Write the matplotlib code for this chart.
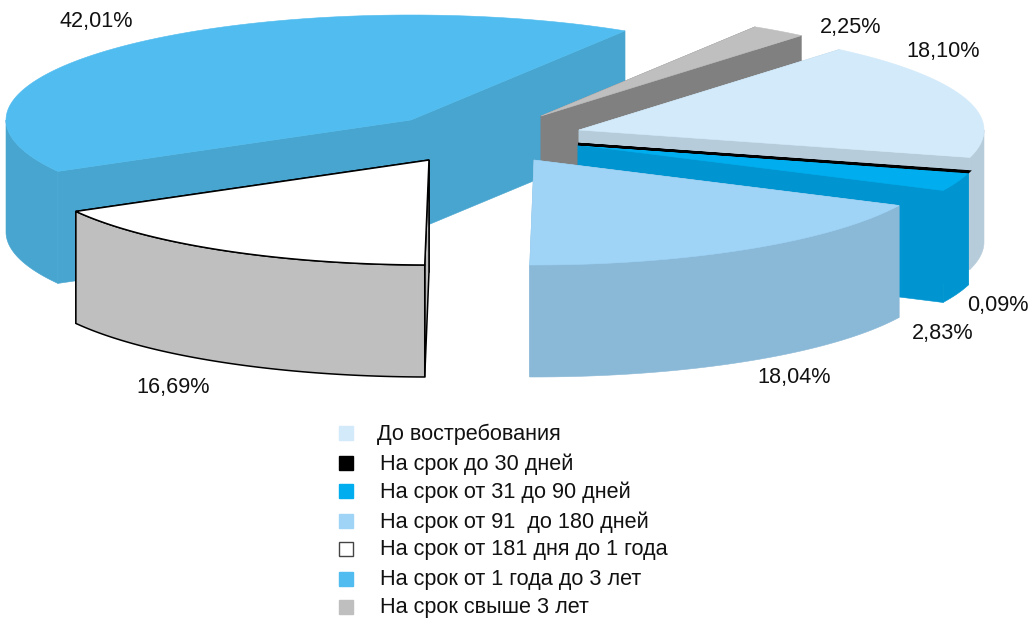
import numpy as np
import matplotlib
matplotlib.use("Agg")
import matplotlib.pyplot as plt
from matplotlib.patches import Polygon, Rectangle

plt.rcParams['font.family'] = ['Liberation Sans', 'DejaVu Sans']

categories = ["До востребования", "На срок до 30 дней", "На срок от 31 до 90 дней",
              "На срок от 91  до 180 дней", "На срок от 181 дня до 1 года",
              "На срок от 1 года до 3 лет", "На срок свыше 3 лет"]
shares = [18.10, 0.09, 2.83, 18.04, 16.69, 42.01, 2.25]

top_colors = ["#D2EAFA", "#000000", "#00AEEF", "#9FD4F7", "#FFFFFF", "#50BCEF", "#BFBFBF"]
wall_colors = ["#B7CCDB", "#000000", "#0095D0", "#8AB8D7", "#BFBFBF", "#47A5D0", "#808080"]

# pixel position of each exploded slice's tip, and of its percent label
apex = [(579, 130), (578, 144), (578, 145), (534, 160), (429, 160), (411, 120), (541, 116)]
label_pos = [(943, 51), (998, 305), (943, 333), (794, 376), (173, 387), (96, 21), (851, 27)]
legend_y = [433, 463, 491, 521, 549, 579, 607]
legend_x = [377, 380, 380, 380, 380, 380, 380]

start_angle = 40.0   # clockwise from the top
rx, ry = 405, 105
depth = 112
font_size = 15.6


def rim(cx, cy, a0, a1, dz=0):
    t = np.radians(np.linspace(a0, a1, 200))
    return np.column_stack([cx + rx * np.sin(t), cy - ry * np.cos(t) + dz])


def poly(ax, pts, face, edge=None, lw=0.4):
    ax.add_patch(Polygon(pts, closed=True, facecolor=face,
                         edgecolor=edge if edge else face, linewidth=lw))


def draw_slice(ax, i, a0, a1):
    cx, cy = apex[i]
    wall = wall_colors[i]
    edge = "black" if top_colors[i] == "#FFFFFF" else None
    lw = 1.1 if edge else 0.4
    for ang in (a1, a0):
        p = rim(cx, cy, ang, ang, 0)[0]
        poly(ax, [(cx, cy), p, (p[0], p[1] + depth), (cx, cy + depth)], wall, edge, lw)
    # only the front half of the outer rim can be seen
    lo, hi = max(a0, 90), min(a1, 270)
    if lo < hi:
        poly(ax, np.vstack([rim(cx, cy, lo, hi), rim(cx, cy, hi, lo, depth)]), wall, edge, lw)
    poly(ax, np.vstack([[(cx, cy)], rim(cx, cy, a0, a1)]), top_colors[i], edge, lw)


fig = plt.figure(figsize=(10.34, 6.18), dpi=100)
ax = fig.add_axes([0, 0, 1, 1])
ax.set_xlim(0, 1034)
ax.set_ylim(618, 0)
ax.axis("off")

spans = np.array(shares) / sum(shares) * 360
ends = start_angle + np.cumsum(spans)
starts = ends - spans

# back to front, the thin black slice is only a line on top of the blue one
draw_slice(ax, 5, starts[5], ends[5])
draw_slice(ax, 6, starts[6], ends[6])
draw_slice(ax, 0, starts[0], ends[0])
draw_slice(ax, 2, starts[2], ends[2])
poly(ax, np.vstack([[apex[1]], rim(apex[1][0], apex[1][1], starts[1], ends[1])]), "black", "black", 1.8)
draw_slice(ax, 3, starts[3], ends[3])
draw_slice(ax, 4, starts[4], ends[4])

for v, (x, y) in zip(shares, label_pos):
    ax.text(x, y + 1, f"{v:.2f}%".replace(".", ","), ha="center", va="center", fontsize=font_size, color="#111111")

for name, col, y, x in zip(categories, top_colors, legend_y, legend_x):
    ec = "#444444" if col == "#FFFFFF" else col
    ax.add_patch(Rectangle((338.5, y - 7), 14, 14, facecolor=col, edgecolor=ec, linewidth=1))
    ax.text(x, y + 1, name, ha="left", va="center", fontsize=font_size, color="#111111")

fig.savefig("out.png", dpi=100)
